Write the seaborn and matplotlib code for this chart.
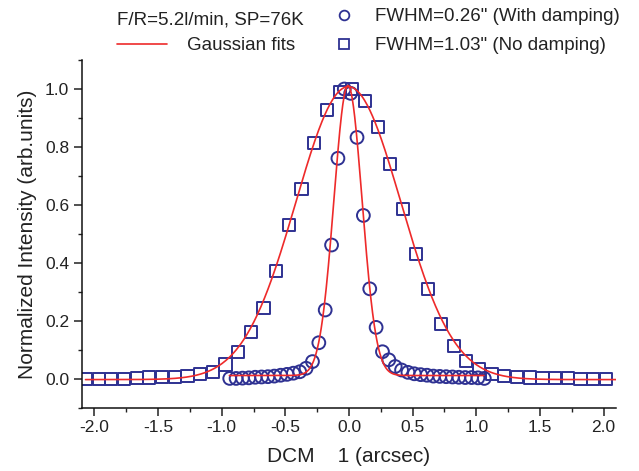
import numpy as np
import pandas as pd
import matplotlib
matplotlib.use("Agg")
import matplotlib.pyplot as plt
from matplotlib.lines import Line2D
from matplotlib.ticker import MultipleLocator
import seaborn as sns

# ---- data ----
x_nodamp = [-2.066, -1.966, -1.867, -1.767, -1.667, -1.568, -1.468, -1.369, -1.269, -1.169,
            -1.070, -0.970, -0.871, -0.771, -0.672, -0.572, -0.472, -0.373, -0.273, -0.173,
            -0.074, 0.026, 0.126, 0.225, 0.325, 0.424, 0.524, 0.624, 0.723, 0.823,
            0.922, 1.022, 1.122, 1.221, 1.321, 1.420, 1.520, 1.620, 1.719, 1.819,
            1.918, 2.018]
y_nodamp = [0.000, 0.000, 0.000, 0.000, 0.002, 0.005, 0.006, 0.008, 0.011, 0.017,
            0.025, 0.050, 0.092, 0.162, 0.246, 0.372, 0.530, 0.655, 0.813, 0.928,
            0.989, 1.000, 0.959, 0.870, 0.740, 0.586, 0.432, 0.309, 0.190, 0.114,
            0.062, 0.034, 0.017, 0.010, 0.007, 0.005, 0.002, 0.002, 0.002, 0.001,
            0.001, 0.001]

x_damp = [-0.937, -0.887, -0.837, -0.787, -0.737, -0.687, -0.637, -0.587, -0.537, -0.487,
          -0.437, -0.387, -0.337, -0.287, -0.237, -0.187, -0.137, -0.087, -0.037, 0.013,
          0.063, 0.113, 0.163, 0.213, 0.263, 0.313, 0.363, 0.413, 0.463, 0.513,
          0.563, 0.613, 0.663, 0.713, 0.763, 0.813, 0.863, 0.913, 0.963, 1.013,
          1.063]
y_damp = [0.002, 0.002, 0.003, 0.004, 0.006, 0.007, 0.008, 0.010, 0.013, 0.016,
          0.020, 0.025, 0.037, 0.060, 0.125, 0.238, 0.462, 0.761, 1.000, 0.985,
          0.833, 0.564, 0.311, 0.178, 0.094, 0.066, 0.043, 0.031, 0.023, 0.018,
          0.015, 0.013, 0.010, 0.009, 0.008, 0.007, 0.006, 0.005, 0.005, 0.004,
          0.002]

# Gaussian fit parameters (center, FWHM, amplitude, offset) and fit ranges
fit_narrow = dict(xc=-0.008, fwhm=0.26, amp=1.0, y0=0.012, xmin=-0.94, xmax=1.06)
fit_wide = dict(xc=-0.005, fwhm=0.97, amp=1.01, y0=-0.002, xmin=-2.07, xmax=2.10)

xticks = [-2.0, -1.5, -1.0, -0.5, 0.0, 0.5, 1.0, 1.5, 2.0]
yticks = [0.0, 0.2, 0.4, 0.6, 0.8, 1.0]

legend_note = "F/R=5.2l/min, SP=76K"
lab_fit = "Gaussian fits"
lab_damp = 'FWHM=0.26" (With damping)'
lab_nodamp = 'FWHM=1.03" (No damping)'
xlabel = "DCM    1 (arcsec)"
ylabel = "Normalized Intensity (arb.units)"


def gauss_curve(p, n=600):
    xs = np.linspace(p["xmin"], p["xmax"], n)
    s = p["fwhm"] / (2 * np.sqrt(2 * np.log(2)))
    ys = p["y0"] + p["amp"] * np.exp(-(xs - p["xc"]) ** 2 / (2 * s ** 2))
    return pd.DataFrame({"x": xs, "y": ys})


sns.set_theme(style="ticks")
plt.rcParams["font.family"] = ["Liberation Sans", "DejaVu Sans"]

blue = "#2E3192"
red = "#EE2A2A"
txt = "#222222"

W, H = 639, 471
fig = plt.figure(figsize=(W / 100, H / 100), dpi=100)
ax = fig.add_axes([81.7 / W, 1 - 408 / H, (616.3 - 81.7) / W, 348 / H])

df_nd = pd.DataFrame({"x": x_nodamp, "y": y_nodamp})
df_d = pd.DataFrame({"x": x_damp, "y": y_damp})

sns.scatterplot(data=df_nd, x="x", y="y", ax=ax, marker="s", s=76,
                facecolor="none", edgecolor=blue, linewidth=1.4, zorder=2)
sns.scatterplot(data=df_d, x="x", y="y", ax=ax, marker="o", s=85,
                facecolor="none", edgecolor=blue, linewidth=1.4, zorder=2)
sns.lineplot(data=gauss_curve(fit_wide), x="x", y="y", ax=ax, color=red,
             linewidth=1.2, zorder=3)
sns.lineplot(data=gauss_curve(fit_narrow), x="x", y="y", ax=ax, color=red,
             linewidth=1.2, zorder=3)

ax.set_xlim(-2.1, 2.1)
ax.set_ylim(-0.1, 1.1)
ax.set_xticks(xticks)
ax.set_xticklabels([f"{t:.1f}" for t in xticks])
ax.set_yticks(yticks)
ax.set_yticklabels([f"{t:.1f}" for t in yticks])
ax.xaxis.set_minor_locator(MultipleLocator(0.25))
ax.yaxis.set_minor_locator(MultipleLocator(0.1))
ax.tick_params(which="major", direction="out", length=6, width=1.1,
               color=txt, labelsize=12.5, labelcolor=txt, pad=3)
ax.tick_params(which="minor", direction="out", length=3, width=1.0, color=txt)
for side in ["top", "right"]:
    ax.spines[side].set_visible(False)
for side in ["left", "bottom"]:
    ax.spines[side].set_linewidth(1.1)
    ax.spines[side].set_color("#111111")

ax.set_xlabel(xlabel, fontsize=15, color=txt, labelpad=8)
ax.set_ylabel(ylabel, fontsize=15, color=txt, labelpad=6)

fs = 13.5
fpx = fs * 100 / 72

blank = Line2D([], [], linestyle="none", marker=None)
h_fit = Line2D([], [], color=red, linewidth=1.2)
h_d = Line2D([], [], linestyle="none", marker="o", markersize=7, markerfacecolor="none",
             markeredgecolor=blue, markeredgewidth=1.3)
h_nd = Line2D([], [], linestyle="none", marker="s", markersize=6.5, markerfacecolor="none",
              markeredgecolor=blue, markeredgewidth=1.3)

leg1 = fig.legend(handles=[blank, h_fit], labels=["", lab_fit],
                  ncol=1, frameon=False, fontsize=fs, loc="upper left",
                  bbox_to_anchor=(117 / W, 1 - 8 / H),
                  handlelength=50 / fpx, handletextpad=20 / fpx,
                  labelspacing=0.65, borderaxespad=0, borderpad=0)
leg2 = fig.legend(handles=[h_d, h_nd], labels=[lab_damp, lab_nodamp],
                  ncol=1, frameon=False, fontsize=fs, loc="upper left",
                  bbox_to_anchor=(334.6 / W, 1 - 8 / H),
                  handlelength=1.0, handletextpad=1.15,
                  labelspacing=0.65, borderaxespad=0, borderpad=0)
for lg in (leg1, leg2):
    for t in lg.get_texts():
        t.set_color(txt)
fig.text(117 / W, 1 - 20 / H, legend_note, fontsize=fs, color=txt,
         ha="left", va="center")

fig.savefig("out.png", dpi=100)
